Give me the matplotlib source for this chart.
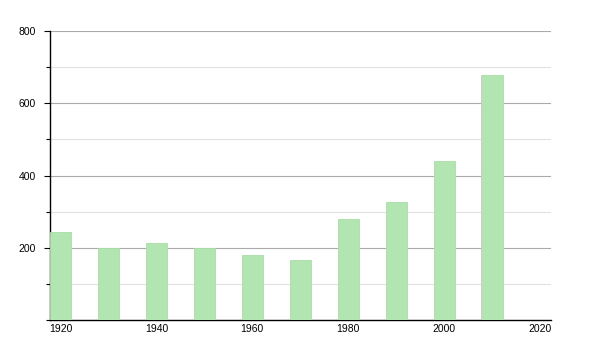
import matplotlib
matplotlib.use("Agg")
import matplotlib.pyplot as plt
from matplotlib.ticker import MultipleLocator

# Data
years = [1920, 1930, 1940, 1950, 1960, 1970, 1980, 1990, 2000, 2010]
values = [244, 198, 214, 200, 180, 166, 280, 327, 440, 678]

plt.rcParams['font.family'] = ['Liberation Sans', 'DejaVu Sans']

fig = plt.figure(figsize=(6, 3.5), dpi=100)
ax = fig.add_axes([50 / 600, 30 / 350, 501 / 600, 289 / 350])

ax.bar(years, values, width=4.4, color='#b3e5b3', edgecolor='#a8dfa8', linewidth=0.6, zorder=3)

ax.set_xlim(1917.8, 2022.3)
ax.set_ylim(0, 800)

ax.yaxis.set_major_locator(MultipleLocator(200))
ax.yaxis.set_minor_locator(MultipleLocator(100))
ax.xaxis.set_major_locator(MultipleLocator(20))
ax.set_yticks([200, 400, 600, 800])

ax.grid(axis='y', which='major', color='#aaaaaa', linewidth=0.8, zorder=0)
ax.grid(axis='y', which='minor', color='#e2e2e2', linewidth=0.8, zorder=0)

for side in ['top', 'right']:
    ax.spines[side].set_visible(False)
ax.spines['left'].set_linewidth(1.0)
ax.spines['bottom'].set_linewidth(1.0)

ax.tick_params(axis='y', which='major', length=4, width=0.8, labelsize=7.5, pad=6)
ax.tick_params(axis='y', which='minor', length=3, width=0.8)
ax.tick_params(axis='x', which='both', length=0, labelsize=7.5, pad=3)

fig.savefig('out.png', dpi=100)
